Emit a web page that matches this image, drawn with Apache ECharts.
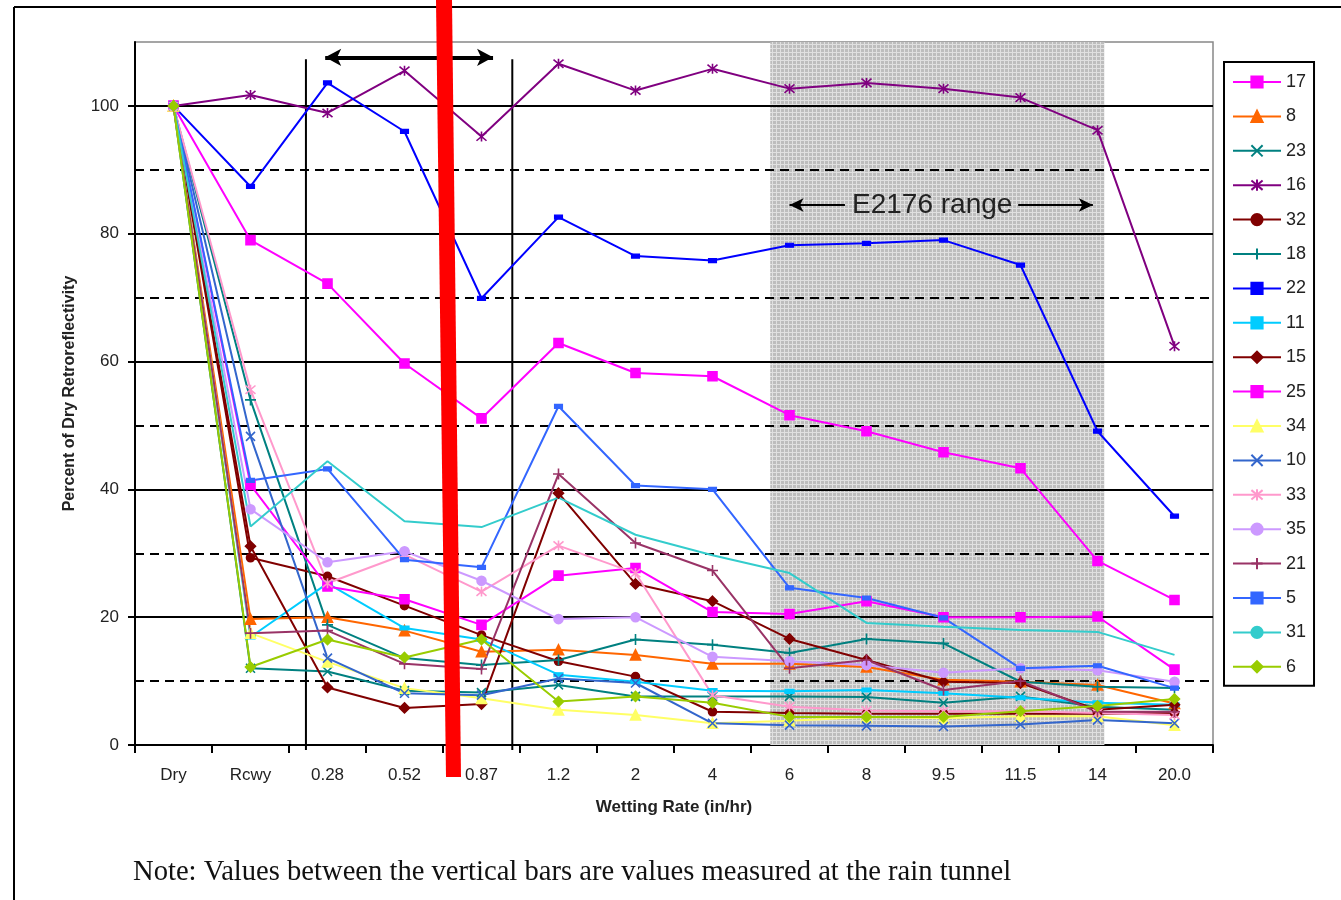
<!DOCTYPE html>
<html><head><meta charset="utf-8">
<script src="https://cdn.jsdelivr.net/npm/echarts@6/dist/echarts.min.js"></script>
<style>html,body{margin:0;padding:0;background:#fff}#c{width:1341px;height:900px}</style>
</head><body><div id="c"></div>
<script>
// ---------- data ----------
const categories = ['Dry','Rcwy','0.28','0.52','0.87','1.2','2','4','6','8','9.5','11.5','14','20.0'];
const s17 = [100, 79, 72.2, 59.7, 51.1, 62.9, 58.2, 57.7, 51.6, 49.1, 45.8, 43.3, 28.8, 22.7];
const s8  = [100, 19.7, 20, 17.9, 14.6, 14.9, 14.1, 12.7, 12.7, 12.2, 10.2, 9.9, 9.4, 6.5];
const s23 = [100, 12, 11.5, 8.5, 8.2, 9.4, 7.6, 7.6, 7.6, 7.5, 6.6, 7.6, 6, 5.5];
const s16 = [100, 101.7, 98.9, 105.5, 95.2, 106.6, 102.4, 105.8, 102.7, 103.6, 102.7, 101.3, 96.2, 62.4];
const s32 = [100, 29.3, 26.4, 21.8, 17.2, 13.1, 10.7, 5.2, 5, 4.9, 4.9, 4.9, 4.9, 5];
const s18 = [100, 54, 18.8, 13.6, 12.5, 13.3, 16.5, 15.7, 14.4, 16.6, 15.9, 9.9, 9.1, 8.9];
const s22 = [100, 87.4, 103.6, 96, 69.9, 82.6, 76.5, 75.8, 78.2, 78.5, 79, 75.1, 49.1, 35.8];
const s11 = [100, 16.9, 25.3, 18.3, 16.5, 11, 9.9, 8.5, 8.4, 8.6, 8.1, 7.4, 6.6, 6.3];
const s15 = [100, 31.1, 9, 5.8, 6.4, 39.4, 25.2, 22.5, 16.6, 13.3, 9.9, 9.7, 5.5, 6.3];
const s25 = [100, 40.7, 24.8, 22.8, 18.8, 26.5, 27.7, 20.8, 20.5, 22.5, 20, 20, 20.1, 11.8];
const s34 = [100, 17.5, 13, 8.9, 7.3, 5.5, 4.7, 3.4, 3.8, 4.4, 4.2, 4.5, 4.5, 3.1];
const s10 = [100, 48.3, 13.6, 8.1, 7.8, 10.4, 9.7, 3.4, 3.1, 3, 2.9, 3.2, 3.9, 3.4];
const s33 = [100, 55.6, 25.3, 29.8, 24, 31.2, 26.9, 7.8, 6, 5.4, 5.3, 5.3, 5, 4.7];
const s35 = [100, 36.9, 28.6, 30.3, 25.7, 19.7, 20, 13.8, 13.1, 12.5, 11.3, 12, 11.7, 9.9];
const s21 = [100, 17.5, 17.9, 12.7, 11.9, 42.4, 31.6, 27.3, 12, 13.3, 8.6, 10, 5.2, 5.2];
const s5  = [100, 41.4, 43.2, 29, 27.8, 53, 40.6, 40, 24.6, 23, 19.9, 12, 12.4, 8.9];
const s31 = [100, 34.2, 44.4, 35, 34.1, 38.7, 32.9, 29.7, 26.9, 19.1, 18.5, 18, 17.7, 14.1];
const s6  = [100, 12.2, 16.5, 13.7, 16.5, 6.8, 7.6, 6.6, 4.4, 4.4, 4.4, 5.3, 6.1, 7.2];

const solidGrid = [20, 40, 60, 80, 100];
const dashedGrid = [10, 30, 50, 70, 90];
// annotation positions on a hidden value axis (category index units)
const rainTunnelBars = [1.72, 4.40];
const rainArrow = [1.97, 4.15];
const e2176Range = [7.75, 12.09];
const e2176ArrowLeft = [8.72, 8.0];
const e2176ArrowRight = [10.97, 11.94];

// ---------- styles ----------
const X = 'path://M0,0L10,10M10,0L0,10';
const AST = 'path://M0,0L10,10M10,0L0,10M5,-1L5,11';
const PLUS = 'path://M5,0L5,10M0,5L10,5';
const defs = [
  ['17', s17, '#FF00FF', 'rect', 9],
  ['8',  s8,  '#FF6600', 'triangle', 10],
  ['23', s23, '#008080', X, 9],
  ['16', s16, '#800080', AST, 10],
  ['32', s32, '#800000', 'circle', 8],
  ['18', s18, '#008080', PLUS, 11],
  ['22', s22, '#0000FF', 'rect', [7,4]],
  ['11', s11, '#00CCFF', 'rect', [8,4]],
  ['15', s15, '#800000', 'diamond', 10],
  ['25', s25, '#FF00FF', 'rect', 9],
  ['34', s34, '#FFFF66', 'triangle', 10],
  ['10', s10, '#3366CC', X, 9],
  ['33', s33, '#FF99CC', AST, 10],
  ['35', s35, '#CC99FF', 'circle', 9],
  ['21', s21, '#993366', PLUS, 11],
  ['5',  s5,  '#3366FF', 'rect', [7,4]],
  ['31', s31, '#33CCCC', 'none', 6],
  ['6',  s6,  '#99CC00', 'diamond', 10]
];

const pat = document.createElement('canvas');
pat.width = 4; pat.height = 4;
const pc = pat.getContext('2d');
pc.fillStyle = '#bdbdbd'; pc.fillRect(0,0,4,4);
pc.fillStyle = '#e0e0e0'; pc.fillRect(0,0,4,1); pc.fillRect(0,0,1,4);

const FONT = "'Liberation Sans', Arial, sans-serif";

const dataSeries = defs.map(d => ({
  name: d[0], type: 'line', data: d[1], z: 5,
  symbol: d[3], symbolSize: d[4], showAllSymbol: true,
  lineStyle: { color: d[2], width: 2 },
  itemStyle: { color: d[2], borderColor: d[2], borderWidth: 1.6 },
  emphasis: { disabled: true }, animation: false
}));

const gridLines = solidGrid.map(v => ({ yAxis: v, lineStyle: { type: 'solid', color: '#000', width: 2 } }))
  .concat(dashedGrid.map(v => ({ yAxis: v, lineStyle: { type: [9, 6], color: '#000', width: 2 } })));

const barSeries = rainTunnelBars.map((x, i) => ({
  name: 'bar' + i, type: 'line', xAxisIndex: 1, z: 3, silent: true, clip: false,
  symbol: 'none', lineStyle: { color: '#000', width: 2 },
  data: [[x, 107.3], [x, -0.8]]
}));

const options = {
  animation: false,
  grid: { left: 135, top: 42, width: 1078, height: 703, show: true, borderColor: '#888', borderWidth: 1.5, backgroundColor: 'transparent' },
  legend: {
    orient: 'vertical', left: 1224, top: 62, padding: [11, 8, 10, 8], itemGap: 16.4,
    itemWidth: 48, itemHeight: 14, borderColor: '#000', borderWidth: 2, backgroundColor: '#fff',
    textStyle: { fontFamily: FONT, fontSize: 18, color: '#222' },
    data: defs.map(d => d[0])
  },
  xAxis: [{
    type: 'category', data: categories, boundaryGap: true,
    axisLine: { onZero: false, lineStyle: { color: '#000', width: 2 } },
    axisTick: { show: true, length: 8, lineStyle: { color: '#000', width: 2 } },
    axisLabel: { fontFamily: FONT, fontSize: 17, color: '#222', margin: 22, interval: 0 },
    splitLine: { show: false },
    name: 'Wetting Rate (in/hr)', nameLocation: 'middle', nameGap: 54,
    nameTextStyle: { fontFamily: FONT, fontSize: 17, fontWeight: 'bold', color: '#222' }
  }, {
    type: 'value', min: -0.5, max: 13.5, show: false, gridIndex: 0,
    axisLine: { onZero: false }
  }],
  yAxis: [{
    type: 'value', min: 0, max: 110, interval: 20,
    axisLine: { show: true, onZero: false, lineStyle: { color: '#000', width: 2 } },
    axisTick: { show: true, length: 7, lineStyle: { color: '#000', width: 2 } },
    axisLabel: { fontFamily: FONT, fontSize: 17, color: '#222', margin: 16, showMaxLabel: false },
    splitLine: { show: false },
    name: 'Percent of Dry Retroreflectivity', nameLocation: 'middle', nameGap: 57,
    nameTextStyle: { fontFamily: FONT, fontSize: 16, fontWeight: 'bold', color: '#222' }
  }],
  series: [
    {
      name: 'shade', type: 'line', xAxisIndex: 1, data: [], z: 1, silent: true,
      markArea: {
        silent: true,
        itemStyle: { color: { image: pat, repeat: 'repeat' } },
        data: [[{ coord: [e2176Range[0], 0] }, { coord: [e2176Range[1], 110] }]]
      }
    },
    {
      name: 'grid', type: 'line', data: [], z: 2, silent: true,
      markLine: { silent: true, symbol: 'none', label: { show: false }, data: gridLines }
    },
    {
      name: 'annot', type: 'line', xAxisIndex: 1, data: [], z: 3, silent: true, clip: false,
      markLine: {
        silent: true, label: { show: false }, symbol: 'none',
        data: [
          [{ coord: [rainArrow[0], 107.6], symbol: 'arrow', symbolSize: [13, 16], lineStyle: { color: '#000', width: 4, type: 'solid' } }, { coord: [rainArrow[1], 107.6], symbol: 'arrow', symbolSize: [13, 16] }],
          [{ coord: [e2176ArrowLeft[0], 84.5], symbol: 'none', lineStyle: { color: '#000', width: 2, type: 'solid' } }, { coord: [e2176ArrowLeft[1], 84.5], symbol: 'arrow', symbolSize: [10, 14] }],
          [{ coord: [e2176ArrowRight[0], 84.5], symbol: 'none', lineStyle: { color: '#000', width: 2, type: 'solid' } }, { coord: [e2176ArrowRight[1], 84.5], symbol: 'arrow', symbolSize: [10, 14] }]
        ]
      }
    }
  ].concat(barSeries).concat(dataSeries),
  graphic: [
    { type: 'line', shape: { x1: 14, y1: 7, x2: 14, y2: 900 }, style: { stroke: '#000', lineWidth: 2 } },
    { type: 'line', shape: { x1: 14, y1: 7, x2: 1341, y2: 7 }, style: { stroke: '#000', lineWidth: 2 } },
    { type: 'text', left: 852, top: 191, z: 50,
      style: { text: 'E2176 range', font: "28px 'Liberation Sans', Arial, sans-serif", fill: '#222' } },
    { type: 'text', left: 133, top: 858, z: 50,
      style: { text: 'Note: Values between the vertical bars are values measured at the rain tunnel', font: "28.6px 'Liberation Serif', 'Times New Roman', serif", fill: '#111' } },
    { type: 'polygon', z: 100, shape: { points: [[436, 0], [452, 0], [461, 777], [446, 777]] }, style: { fill: '#FF0000' } }
  ]
};

const chart = echarts.init(document.getElementById('c'), null, { renderer: 'canvas' });
chart.setOption(options);
</script>
</body></html>
